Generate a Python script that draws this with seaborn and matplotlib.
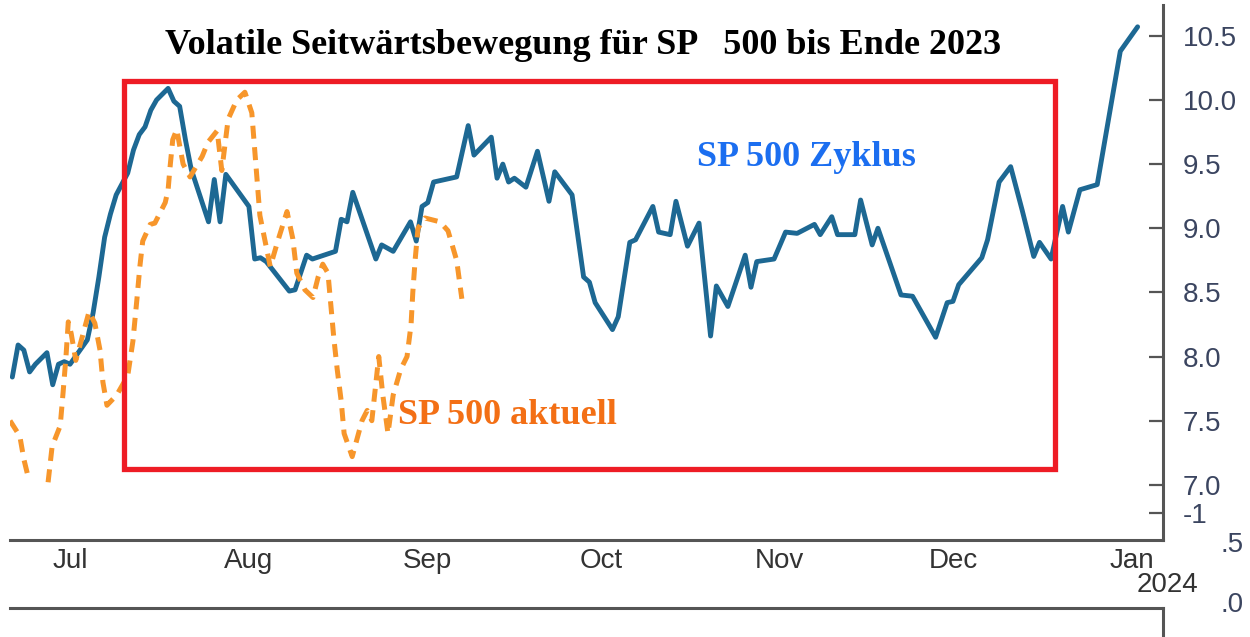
import numpy as np
import pandas as pd
import seaborn as sns
import matplotlib.pyplot as plt
from matplotlib.patches import Rectangle
import matplotlib.dates as mdates

base = pd.Timestamp("2023-07-01")

# SP 500 Zyklus (blue) - days after 1 Jul 2023 and index level
zyklus_days = [-10, -9, -8, -7, -6, -4, -3, -2, -1, 0, 3, 4, 5, 6, 7, 8, 10, 11, 12, 13,
               14, 15, 17, 18, 19, 20, 21, 24, 25, 26, 27, 31, 32, 33, 34, 38, 39, 41, 42, 46,
               47, 48, 49, 53, 54, 56, 59, 60, 61, 62, 63, 67, 69, 70, 73, 74, 75, 76, 77, 79,
               81, 83, 84, 87, 89, 90, 91, 94, 95, 97, 98, 101, 102, 104, 105, 107, 109, 111, 112, 114,
               117, 118, 119, 122, 124, 126, 129, 130, 132, 133, 136, 137, 139, 140, 144, 146, 150, 152, 153, 154,
               158, 159, 161, 163, 165, 167, 168, 170, 172, 173, 175, 178, 182, 185]
zyklus_vals = [7.84, 8.09, 8.05, 7.88, 7.94, 8.03, 7.78, 7.94, 7.96, 7.94, 8.13, 8.34, 8.62, 8.93, 9.11,
               9.26, 9.43, 9.61, 9.73, 9.79, 9.92, 10.00, 10.09, 9.99, 9.95, 9.69, 9.46, 9.05, 9.38, 9.05,
               9.42, 9.17, 8.76, 8.77, 8.74, 8.51, 8.52, 8.79, 8.76, 8.82, 9.07, 9.05, 9.28, 8.76, 8.87,
               8.82, 9.05, 8.90, 9.17, 9.20, 9.36, 9.40, 9.80, 9.57, 9.71, 9.39, 9.50, 9.36, 9.39, 9.32,
               9.60, 9.21, 9.44, 9.26, 8.62, 8.58, 8.42, 8.21, 8.31, 8.89, 8.91, 9.17, 8.97, 8.95, 9.21,
               8.86, 9.04, 8.16, 8.55, 8.39, 8.79, 8.54, 8.74, 8.76, 8.97, 8.96, 9.03, 8.95, 9.09, 8.95,
               8.95, 9.22, 8.87, 9.00, 8.48, 8.47, 8.15, 8.42, 8.43, 8.56, 8.77, 8.91, 9.36, 9.48, 9.14,
               8.78, 8.89, 8.76, 9.17, 8.97, 9.30, 9.34, 10.38, 10.57]

# SP 500 aktuell (orange, dashed) - nan where the line leaves the chart
aktuell_days = [-10.4, -8.7, -8.0, -7.3, -5.5, -3.8, -3.1, -1.7, -1.2, -0.7,
                -0.3, 0.2, 1.0, 2.1, 3.3, 4.3, 5.2, 5.7, 6.4, 8.1,
                10.0, 10.9, 11.6, 12.1, 12.6, 13.9, 14.7, 16.5, 17.0, 17.3,
                17.8, 18.5, 19.1, 19.6, 20.8, 22.9, 23.9, 25.5, 26.3, 27.4,
                28.9, 30.3, 31.5, 32.2, 32.9, 33.8, 34.7, 36.0, 37.6, 38.6,
                39.3, 40.7, 42.1, 43.0, 43.8, 44.7, 45.2, 45.7, 46.3, 47.0,
                47.5, 48.9, 50.6, 51.5, 52.3, 53.5, 54.2, 55.1, 56.0, 57.3,
                58.4, 59.1, 59.4, 59.8, 60.3, 61.5, 64.1, 65.5, 67.0, 67.9]
aktuell_vals = [7.50, 7.38, 7.20, 7.07, np.nan, 7.02, 7.30, 7.46, 7.72, 8.00,
                8.27, 8.18, 7.97, 8.15, 8.35, 8.26, 8.05, 7.80, 7.62, 7.70,
                7.85, 8.12, 8.45, 8.70, 8.90, 9.03, 9.04, 9.20, 9.30, 9.46,
                9.69, 9.77, 9.62, 9.50, 9.40, 9.56, 9.67, 9.76, 9.45, 9.85,
                10.00, 10.06, 9.90, 9.50, 9.10, 8.90, 8.70, 8.90, 9.13, 8.92,
                8.65, 8.52, 8.46, 8.62, 8.72, 8.65, 8.40, 8.15, 7.90, 7.65,
                7.40, 7.22, 7.50, 7.58, 7.50, 8.00, 7.70, 7.40, 7.70, 7.90,
                8.00, 8.25, 8.50, 8.75, 9.00, 9.08, 9.05, 8.98, 8.75, 8.45]

# red range box
box_days = (9.3, 170.6)
box_vals = (7.12, 10.15)

month_ticks = ["2023-07-01", "2023-08-01", "2023-09-01", "2023-10-01",
               "2023-11-01", "2023-12-01", "2024-01-01"]
month_labels = ["Jul", "Aug", "Sep", "Oct", "Nov", "Dec", "Jan"]
y_ticks = [7.0, 7.5, 8.0, 8.5, 9.0, 9.5, 10.0, 10.5]

sns.set_theme(style="white")
plt.rcParams["font.family"] = ["Liberation Sans", "DejaVu Sans"]

W, H = 1250, 637
fig = plt.figure(figsize=(W / 100, H / 100), dpi=100)
ax = fig.add_axes([10 / W, 1 - 540 / H, 1153 / W, 535 / H])

zyk = pd.DataFrame({"date": base + pd.to_timedelta(zyklus_days, unit="D"), "value": zyklus_vals})
akt = pd.DataFrame({"date": base + pd.to_timedelta(aktuell_days, unit="D"), "value": aktuell_vals})
akt["seg"] = akt["value"].isna().cumsum()

sns.lineplot(data=zyk, x="date", y="value", ax=ax, color="#1d6893", linewidth=3.5,
             estimator=None, sort=False, zorder=3)
sns.lineplot(data=akt, x="date", y="value", units="seg", ax=ax, color="#f7962b",
             linewidth=3.6, estimator=None, sort=False, zorder=4)
for ln in ax.lines[1:]:
    ln.set_dashes((2.6, 1.7))

x0 = mdates.date2num(base + pd.Timedelta(days=box_days[0]))
x1 = mdates.date2num(base + pd.Timedelta(days=box_days[1]))
ax.add_patch(Rectangle((x0, box_vals[0]), x1 - x0, box_vals[1] - box_vals[0],
                       fill=False, edgecolor="#ee1c25", linewidth=3.8, zorder=6))

ax.set_xlim(base - pd.Timedelta(days=10.4), base + pd.Timedelta(days=189.4))
ax.set_ylim(6.57, 10.74)
ax.set_xlabel("")
ax.set_ylabel("")

ax.set_xticks(pd.to_datetime(month_ticks))
ax.set_xticklabels(month_labels, fontsize=20, color="#333333")
ax.yaxis.tick_right()
ax.set_yticks(y_ticks + [6.78])
ax.set_yticklabels([f"{v:.1f}" for v in y_ticks] + ["-1"], fontsize=20, color="#3b4560")
ax.tick_params(axis="y", direction="in", length=10, width=1.6, color="#555555", pad=14)
ax.tick_params(axis="x", direction="in", length=5, width=1.2, color="#777777", pad=6)

for s in ["top", "left"]:
    ax.spines[s].set_visible(False)
for s in ["right", "bottom"]:
    ax.spines[s].set_visible(True)
    ax.spines[s].set_color("#555555")
    ax.spines[s].set_linewidth(2.2)

ax.text(573 / 1153, 1 - 40 / 535, "Volatile Seitwärtsbewegung für SP   500 bis Ende 2023",
        transform=ax.transAxes, ha="center", va="center", fontsize=26,
        fontweight="bold", family="Liberation Serif", color="black")
ax.text(687 / 1153, 1 - 152 / 535, "SP 500 Zyklus", transform=ax.transAxes,
        ha="left", va="center", fontsize=26, fontweight="bold",
        family="Liberation Serif", color="#1b6ef0", zorder=7)
ax.text(388 / 1153, 1 - 410 / 535, "SP 500 aktuell", transform=ax.transAxes,
        ha="left", va="center", fontsize=26, fontweight="bold",
        family="Liberation Serif", color="#f36f15", zorder=7)

# bits of the lower panel visible in the screenshot
low = fig.add_axes([10 / W, 0, 1153 / W, 29 / H])
low.set_xticks([])
low.set_yticks([])
for s in ["bottom", "left"]:
    low.spines[s].set_visible(False)
for s in ["top", "right"]:
    low.spines[s].set_color("#555555")
    low.spines[s].set_linewidth(2.2)
low.patch.set_alpha(0)

fig.text(1168 / W, 1 - 585 / H, "2024", ha="center", va="center", fontsize=20, color="#333333")
fig.text(1232 / W, 1 - 545 / H, ".5", ha="center", va="center", fontsize=20, color="#3b4560")
fig.text(1232 / W, 1 - 605 / H, ".0", ha="center", va="center", fontsize=20, color="#3b4560")

fig.savefig("out.png", dpi=100)
